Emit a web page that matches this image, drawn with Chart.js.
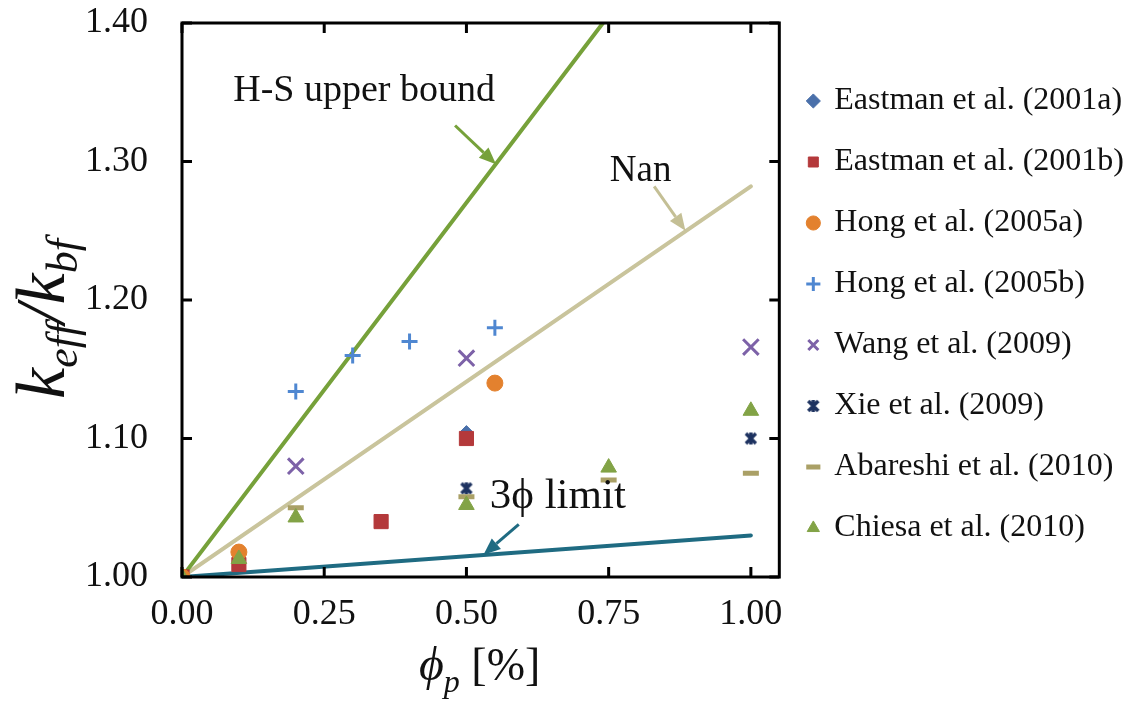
<!DOCTYPE html>
<html>
<head>
<meta charset="utf-8">
<title>keff / kbf</title>
<script src="https://cdn.jsdelivr.net/npm/chart.js@4.4.0/dist/chart.umd.min.js"></script>
<style>
  html, body { margin: 0; padding: 0; background: #fff; }
</style>
</head>
<body>
<canvas id="kchart" width="1141" height="702"></canvas>
<script>
(function () {
    "use strict";

    // measured points [phi_p (%), keff/kbf]
    var eastman2001a = [[0, 1.000], [0.50, 1.105]];
    var eastman2001b = [[0, 1.000], [0.10, 1.009], [0.35, 1.040], [0.50, 1.100]];
    var hong2005a = [[0, 1.000], [0.10, 1.018], [0.55, 1.140]];
    var hong2005b = [[0.20, 1.134], [0.30, 1.160], [0.40, 1.170], [0.55, 1.180]];
    var wang2009 = [[0.20, 1.080], [0.50, 1.158], [1.00, 1.166]];
    var xie2009 = [[0.50, 1.064], [1.00, 1.100]];
    var abareshi2010 = [[0.20, 1.050], [0.50, 1.058], [0.75, 1.070], [1.00, 1.075]];
    var chiesa2010 = [[0, 1.000], [0.10, 1.013], [0.20, 1.043], [0.50, 1.052], [0.75, 1.079], [1.00, 1.120]];

    // model lines
    var hsBound = [[0, 1.00], [0.74, 1.40]];
    var nanModel = [[0, 1.00], [1.00, 1.282]];
    var limit3phi = [[0, 1.00], [1.00, 1.03]];

    var xTicks = [0, 0.25, 0.5, 0.75, 1.0];
    var yTicks = [1.0, 1.1, 1.2, 1.3, 1.4];

    var SERIF = "'Liberation Serif', 'Times New Roman', serif";

    function pts(arr) {
        return arr.map(function (p) { return { x: p[0], y: p[1] }; });
    }

    // Xie marker: x with a vertical bar
    function starMarker(color) {
        var c = document.createElement('canvas');
        c.width = 18; c.height = 18;
        var g = c.getContext('2d');
        g.strokeStyle = color;
        g.lineWidth = 3.4;
        g.beginPath();
        g.moveTo(4, 4); g.lineTo(14, 14);
        g.moveTo(14, 4); g.lineTo(4, 14);
        g.moveTo(9, 3); g.lineTo(9, 15);
        g.stroke();
        return c;
    }

    // later series sit on top, as in the spreadsheet original
    function series(label, data, style, color, radius, width, order) {
        return {
            label: label,
            data: pts(data),
            pointStyle: style,
            pointRadius: radius,
            pointHoverRadius: radius,
            backgroundColor: color,
            borderColor: color,
            borderWidth: width,
            showLine: false,
            order: order
        };
    }

    function modelLine(label, data, color) {
        return {
            label: label,
            data: pts(data),
            showLine: true,
            pointRadius: 0,
            borderColor: color,
            backgroundColor: color,
            borderWidth: 4,
            borderCapStyle: 'round',
            order: 20
        };
    }

    // inward tick marks and the black frame
    var framePlugin = {
        id: 'frame',
        afterDatasetsDraw: function (chart) {
            var ctx = chart.ctx, a = chart.chartArea;
            var xs = chart.scales.x, ys = chart.scales.y;
            ctx.save();
            ctx.strokeStyle = '#000';
            ctx.lineWidth = 3;
            ctx.beginPath();
            xTicks.forEach(function (v) {
                var px = xs.getPixelForValue(v);
                ctx.moveTo(px, a.bottom); ctx.lineTo(px, a.bottom - 10);
                ctx.moveTo(px, a.top); ctx.lineTo(px, a.top + 10);
            });
            yTicks.forEach(function (v) {
                var py = ys.getPixelForValue(v);
                ctx.moveTo(a.left, py); ctx.lineTo(a.left + 10, py);
                ctx.moveTo(a.right, py); ctx.lineTo(a.right - 10, py);
            });
            ctx.stroke();
            ctx.strokeRect(a.left, a.top, a.right - a.left, a.bottom - a.top);
            ctx.restore();
        }
    };

    // labels with arrows pointing at the model lines
    var notes = [
        { text: 'H-S upper bound', size: 38, at: [0.09, 1.344], from: [0.48, 1.326], to: [0.552, 1.298], color: '#76a13a' },
        { text: 'Nan', size: 37, at: [0.752, 1.286], from: [0.83, 1.282], to: [0.885, 1.250], color: '#c4bf95' },
        { text: '3\u03d5 limit', size: 43, at: [0.541, 1.050], from: [0.592, 1.038], to: [0.530, 1.016], color: '#1f6b82' }
    ];

    function arrow(ctx, x1, y1, x2, y2, color) {
        var ang = Math.atan2(y2 - y1, x2 - x1);
        var head = 17, half = 7;
        var bx = x2 - head * Math.cos(ang), by = y2 - head * Math.sin(ang);
        ctx.strokeStyle = color;
        ctx.fillStyle = color;
        ctx.lineWidth = 3;
        ctx.beginPath();
        ctx.moveTo(x1, y1); ctx.lineTo(bx, by);
        ctx.stroke();
        ctx.beginPath();
        ctx.moveTo(x2, y2);
        ctx.lineTo(bx + half * Math.sin(ang), by - half * Math.cos(ang));
        ctx.lineTo(bx - half * Math.sin(ang), by + half * Math.cos(ang));
        ctx.closePath();
        ctx.fill();
    }

    var notePlugin = {
        id: 'notes',
        afterDatasetsDraw: function (chart) {
            var ctx = chart.ctx, xs = chart.scales.x, ys = chart.scales.y;
            ctx.save();
            ctx.textBaseline = 'alphabetic';
            ctx.textAlign = 'left';
            notes.forEach(function (n) {
                ctx.font = n.size + 'px ' + SERIF;
                ctx.fillStyle = '#111';
                ctx.fillText(n.text, xs.getPixelForValue(n.at[0]), ys.getPixelForValue(n.at[1]));
                arrow(ctx, xs.getPixelForValue(n.from[0]), ys.getPixelForValue(n.from[1]),
                    xs.getPixelForValue(n.to[0]), ys.getPixelForValue(n.to[1]), n.color);
            });
            ctx.restore();
        }
    };

    // draws a run of [text, font, baseline shift] pieces starting at x
    function runs(ctx, parts, x, y) {
        parts.forEach(function (p) {
            ctx.font = p[1];
            ctx.fillText(p[0], x, y + p[2]);
            x += ctx.measureText(p[0]).width;
        });
    }
    function runsWidth(ctx, parts) {
        var w = 0;
        parts.forEach(function (p) { ctx.font = p[1]; w += ctx.measureText(p[0]).width; });
        return w;
    }

    // axis titles with subscripts
    var titlePlugin = {
        id: 'axisTitles',
        afterDraw: function (chart) {
            var ctx = chart.ctx, a = chart.chartArea;
            ctx.save();
            ctx.fillStyle = '#111';
            ctx.textBaseline = 'alphabetic';
            ctx.textAlign = 'left';

            var big = 'italic 70px ' + SERIF, sub = 'italic 44px ' + SERIF;
            var yParts = [['k', big, 0], ['eff', sub, 13], ['/', big, 0], ['k', big, 0], ['bf', sub, 13]];
            ctx.translate(64, 319);
            ctx.rotate(-Math.PI / 2);
            runs(ctx, yParts, -runsWidth(ctx, yParts) / 2, 0);
            ctx.restore();

            ctx.save();
            ctx.fillStyle = '#111';
            ctx.textBaseline = 'alphabetic';
            var xParts = [['\u03d5', 'italic 48px ' + SERIF, 0], ['p', 'italic 32px ' + SERIF, 12], [' [%]', '46px ' + SERIF, 0]];
            runs(ctx, xParts, (a.left + a.right) / 2 - runsWidth(ctx, xParts) / 2 - 1, 680);
            ctx.restore();
        }
    };

    var ctx = document.getElementById('kchart').getContext('2d');
    var chart = new Chart(ctx, {
        type: 'scatter',
        data: {
            datasets: [
                series('Eastman et al. (2001a)', eastman2001a, 'rectRot', '#4a70aa', 6, 1, 9),
                series('Eastman et al. (2001b)', eastman2001b, 'rect', '#b4393b', 10, 1, 8),
                series('Hong et al. (2005a)', hong2005a, 'circle', '#e3812e', 8, 1, 7),
                series('Hong et al. (2005b)', hong2005b, 'cross', '#4f87d1', 8, 3, 6),
                series('Wang et al. (2009)', wang2009, 'crossRot', '#7d62a8', 11, 3, 5),
                series('Xie et al. (2009)', xie2009, starMarker('#1d3260'), '#1d3260', 8, 3, 4),
                series('Abareshi et al. (2010)', abareshi2010, 'line', '#aaa066', 8, 5, 3),
                series('Chiesa et al. (2010)', chiesa2010, 'triangle', '#82a346', 9, 1, 2),
                modelLine('H-S upper bound', hsBound, '#76a13a'),
                modelLine('Nan', nanModel, '#c9c49c'),
                modelLine('3\u03d5 limit', limit3phi, '#1f6b82')
            ]
        },
        options: {
            responsive: false,
            animation: false,
            layout: { padding: { top: 23, right: 7, bottom: 0, left: 0 } },
            plugins: {
                tooltip: { enabled: false },
                legend: {
                    position: 'right',
                    align: 'start',
                    maxWidth: 420,
                    title: { display: true, text: ' ', font: { size: 10 }, padding: { top: 0, bottom: 21 } },
                    labels: {
                        usePointStyle: true,
                        boxWidth: 10,
                        boxHeight: 10,
                        padding: 29,
                        color: '#111',
                        font: { family: SERIF, size: 32 },
                        sort: function (a, b) { return a.datasetIndex - b.datasetIndex; },
                        filter: function (item, data) {
                            return !data.datasets[item.datasetIndex].showLine;
                        }
                    }
                }
            },
            scales: {
                x: {
                    type: 'linear',
                    min: 0,
                    max: 1.05,
                    grid: { display: false, drawTicks: false },
                    border: { display: false },
                    afterBuildTicks: function (scale) {
                        scale.ticks = xTicks.map(function (v) { return { value: v }; });
                    },
                    afterFit: function (scale) {
                        scale.height = 125;
                        scale.paddingLeft = 0;
                        scale.paddingRight = 0;
                    },
                    ticks: {
                        padding: 16,
                        color: '#111',
                        font: { family: SERIF, size: 36 },
                        callback: function (v) { return Number(v).toFixed(2); }
                    }
                },
                y: {
                    type: 'linear',
                    min: 1.0,
                    max: 1.4,
                    grid: { display: false, drawTicks: false },
                    border: { display: false },
                    afterBuildTicks: function (scale) {
                        scale.ticks = yTicks.map(function (v) { return { value: v }; });
                    },
                    afterFit: function (scale) {
                        scale.width = 182;
                        scale.paddingTop = 0;
                        scale.paddingBottom = 0;
                    },
                    ticks: {
                        padding: 34,
                        color: '#111',
                        font: { family: SERIF, size: 36 },
                        callback: function (v) { return Number(v).toFixed(2); }
                    }
                }
            }
        },
        plugins: [framePlugin, notePlugin, titlePlugin]
    });
})();
</script>
</body>
</html>
